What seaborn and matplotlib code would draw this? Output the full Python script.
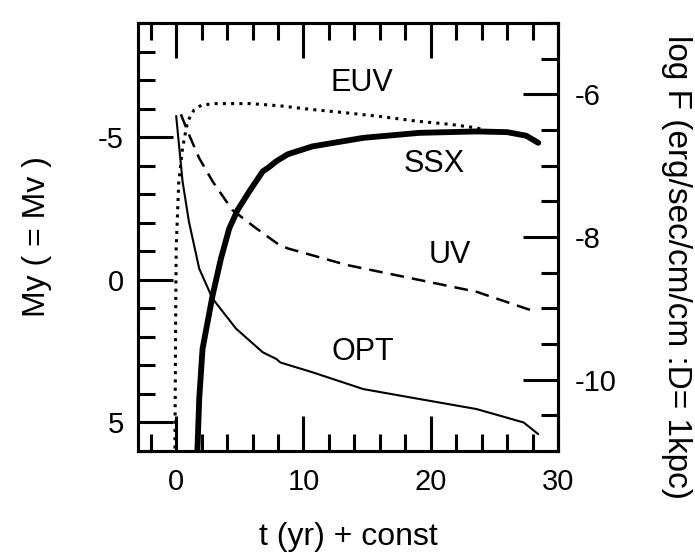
import matplotlib
matplotlib.use("Agg")
import matplotlib.pyplot as plt
from matplotlib.ticker import MultipleLocator, FixedLocator
import seaborn as sns

# Optical light curve (absolute magnitude My = Mv)
t_opt = [0.0, 0.37, 0.5, 1.0, 1.81, 2.86, 4.7, 6.8, 7.85, 8.2, 10.7, 14.7, 18.5, 23.6, 27.3, 28.45]
my_opt = [-5.74, -4.05, -3.45, -2.04, -0.39, 0.66, 1.71, 2.54, 2.77, 2.9, 3.24, 3.83, 4.13, 4.53, 5.0, 5.41]

# UV light curve (magnitude)
t_uv = [0.37, 0.9, 1.8, 2.86, 4.4, 6.3, 8.1, 8.77, 13.4, 18.5, 23.6, 28.3]
my_uv = [-5.8, -5.2, -4.27, -3.45, -2.45, -1.8, -1.22, -1.1, -0.52, -0.05, 0.42, 1.13]

# EUV flux, log F (erg/s/cm^2 at D = 1 kpc)
t_euv = [-0.1, -0.05, 0.0, 0.2, 0.5, 0.9, 1.4, 2.0, 3.1, 5.8, 8.1, 10.5, 13.4, 16.0, 19.1, 21.5, 23.6, 24.6]
logf_euv = [-11.08, -9.4, -8.16, -7.24, -6.75, -6.38, -6.22, -6.15, -6.13, -6.13, -6.16, -6.21,
            -6.26, -6.31, -6.38, -6.42, -6.47, -6.52]

# Supersoft X-ray flux, log F
t_ssx = [1.65, 1.81, 2.07, 2.47, 2.86, 3.52, 4.17, 4.83, 5.75, 6.8, 7.3, 7.85, 8.77, 10.7, 14.7,
         19.1, 23.6, 26.0, 27.5, 28.45]
logf_ssx = [-11.08, -10.27, -9.57, -9.19, -8.82, -8.30, -7.88, -7.62, -7.36, -7.08, -7.02, -6.94,
            -6.84, -6.73, -6.61, -6.54, -6.52, -6.53, -6.58, -6.68]

# Curve names and where they are written (t, My)
curve_names = ["EUV", "SSX", "UV", "OPT"]
name_t = [14.6, 20.3, 21.5, 14.65]
name_my = [-6.9, -4.05, -0.88, 2.54]

sns.set_style("ticks")
plt.rcParams['font.family'] = ['Liberation Sans', 'DejaVu Sans']
plt.rcParams['axes.unicode_minus'] = False
for key in ("text.color", "axes.labelcolor", "xtick.color", "ytick.color", "axes.edgecolor"):
    plt.rcParams[key] = "black"

fig = plt.figure(figsize=(6.95, 5.54), dpi=100)
ax = fig.add_axes([138 / 695, 103 / 554, 420 / 695, 428 / 554])
ax2 = ax.twinx()

sns.lineplot(x=t_opt, y=my_opt, ax=ax, color="black", linewidth=1.5,
             sort=False, estimator=None)
sns.lineplot(x=t_uv, y=my_uv, ax=ax, color="black", linewidth=1.8,
             linestyle=(0, (5.5, 3.2)), sort=False, estimator=None)
sns.lineplot(x=t_euv, y=logf_euv, ax=ax2, color="black", linewidth=2.2,
             linestyle=(0, (1, 1.7)), sort=False, estimator=None)
sns.lineplot(x=t_ssx, y=logf_ssx, ax=ax2, color="black", linewidth=4.2,
             sort=False, estimator=None, solid_capstyle="round")

for name, tx, my in zip(curve_names, name_t, name_my):
    ax.text(tx, my, name, fontsize=22, ha="center", va="center")

ax.set_xlim(-3, 30)
ax.set_ylim(6, -9)
ax2.set_ylim(-11, -5)

ax.xaxis.set_major_locator(FixedLocator([0, 10, 20, 30]))
ax.xaxis.set_minor_locator(MultipleLocator(2))
ax.yaxis.set_major_locator(FixedLocator([-5, 0, 5]))
ax.yaxis.set_minor_locator(MultipleLocator(1))
ax2.yaxis.set_major_locator(FixedLocator([-6, -8, -10]))
ax2.yaxis.set_minor_locator(MultipleLocator(0.5))

for a in (ax, ax2):
    for s in a.spines.values():
        s.set_linewidth(2.2)
        s.set_visible(True)
        s.set_color("black")

ax.tick_params(axis="both", which="both", direction="in", width=2.2, color="black",
               labelsize=21, top=True, right=False)
ax.tick_params(which="major", length=25)
ax.tick_params(which="minor", length=12)
ax.tick_params(axis="x", pad=12)
ax.tick_params(axis="y", pad=10)
ax2.tick_params(axis="y", which="both", direction="in", width=2.2, color="black",
                labelsize=21, pad=12)
ax2.tick_params(which="major", length=25)
ax2.tick_params(which="minor", length=12)

ax.set_xlabel("t (yr) + const", fontsize=23, labelpad=19)
ax.set_ylabel("My ( = Mv )", fontsize=23, labelpad=33)
ax2.set_ylabel("log F (erg/sec/cm/cm :D= 1kpc)", fontsize=24, rotation=270,
               va="center", ha="center")
ax2.yaxis.set_label_coords(1.281, 0.43)

fig.savefig("out.png", dpi=100)
